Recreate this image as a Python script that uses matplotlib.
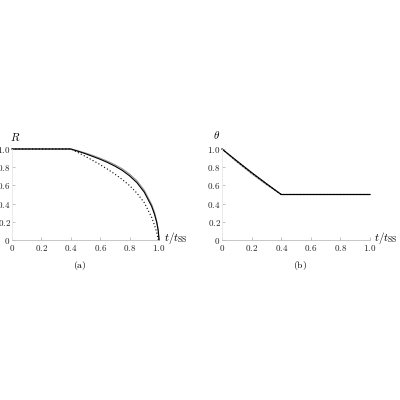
import matplotlib
matplotlib.use("Agg")
import matplotlib.pyplot as plt

plt.rcParams['mathtext.fontset'] = 'cm'
plt.rcParams['font.family'] = ['DejaVu Serif']

# Panel (a): R vs t/t_SS
t_a_black = [0.0, 0.4, 0.45, 0.5, 0.55, 0.6, 0.65, 0.7, 0.75, 0.8, 0.85, 0.9, 0.95, 0.97, 0.985, 0.995, 1.0]
R_black   = [1.0, 1.0, 0.975, 0.948, 0.918, 0.887, 0.852, 0.812, 0.765, 0.705, 0.63, 0.525, 0.37, 0.28, 0.19, 0.10, 0.0]
t_a_gray  = [0.0, 0.4, 0.45, 0.5, 0.55, 0.6, 0.65, 0.7, 0.75, 0.8, 0.85, 0.9, 0.95, 0.97, 0.985, 0.995, 1.0]
R_gray    = [1.0, 1.0, 0.979, 0.955, 0.928, 0.898, 0.865, 0.827, 0.782, 0.724, 0.65, 0.545, 0.39, 0.30, 0.20, 0.105, 0.0]
t_a_dot   = [0.0, 0.4, 0.45, 0.5, 0.55, 0.6, 0.65, 0.7, 0.75, 0.8, 0.85, 0.9, 0.95, 0.97, 0.985, 0.995]
R_dot     = [1.0, 1.0, 0.96, 0.918, 0.874, 0.828, 0.778, 0.724, 0.665, 0.598, 0.515, 0.41, 0.25, 0.16, 0.08, 0.0]

# Panel (b): theta vs t/t_SS
t_b       = [0.0, 0.1, 0.2, 0.3, 0.4, 1.0]
th_black  = [1.0, 0.87, 0.742, 0.62, 0.5, 0.5]
th_gray   = [1.0, 0.86, 0.73, 0.61, 0.5, 0.5]
th_dot    = [1.0, 0.865, 0.735, 0.615, 0.5, 0.5]

ticks = [0, 0.2, 0.4, 0.6, 0.8, 1.0]
tick_labels = ['0', '0.2', '0.4', '0.6', '0.8', '1.0']

fig = plt.figure(figsize=(4, 4), dpi=100)
axA = fig.add_axes([0.03, 0.40, 0.3675, 0.2275])
axB = fig.add_axes([0.555, 0.40, 0.37, 0.2275])

def style(ax):
    for s in ['top', 'right']:
        ax.spines[s].set_visible(False)
    ax.spines['left'].set_color('#e6e6e6')
    ax.spines['bottom'].set_color('#bdbdbd')
    ax.spines['left'].set_linewidth(0.6)
    ax.spines['bottom'].set_linewidth(0.6)
    ax.set_xlim(0, 1.0)
    ax.set_ylim(0, 1.0)
    ax.set_xticks(ticks)
    ax.set_yticks(ticks)
    ax.set_xticklabels(['$' + s + '$' for s in tick_labels], fontsize=6.5)
    ax.set_yticklabels(['$' + s + '$' for s in tick_labels], fontsize=6.5)
    ax.tick_params(axis='both', direction='in', length=2, width=0.5, color='#aaaaaa', labelcolor='#222222')
    ax.tick_params(axis='x', pad=2)
    ax.tick_params(axis='y', pad=1)
    ax.patch.set_visible(False)

style(axA)
style(axB)

axA.plot(t_a_gray, R_gray, color='#9a9a9a', lw=0.9, clip_on=False)
axA.plot(t_a_black, R_black, color='black', lw=0.8, clip_on=False)
axA.plot(t_a_dot, R_dot, color='black', lw=0.8, ls=(0, (1, 2)), clip_on=False)

axB.plot(t_b, th_gray, color='#9a9a9a', lw=0.9, clip_on=False)
axB.plot(t_b, th_dot, color='black', lw=0.8, ls=(0, (1, 2)), clip_on=False)
axB.plot(t_b, th_black, color='black', lw=0.8, clip_on=False)

fig.text(15/400, 1-137/400, '$R$', fontsize=8, ha='center', va='center')
fig.text(217/400, 1-135/400, r'$\theta$', fontsize=8, ha='center', va='center')
fig.text(164/400, 1-238/400, r'$t/t_{\rm SS}$', fontsize=8, ha='left', va='center')
fig.text(374/400, 1-238/400, r'$t/t_{\rm SS}$', fontsize=8, ha='left', va='center')
fig.text(80/400, 1-266/400, r'$\rm (a)$', fontsize=7, ha='center', va='center')
fig.text(300/400, 1-266/400, r'$\rm (b)$', fontsize=7, ha='center', va='center')

fig.savefig('out.png', dpi=100)
